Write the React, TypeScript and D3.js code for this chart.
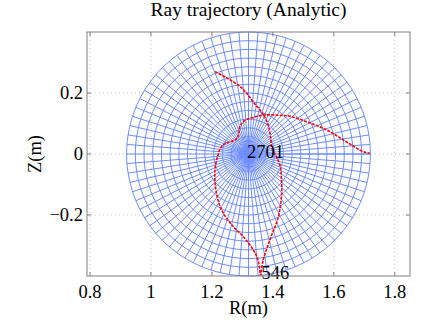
import React from "react";
import * as d3 from "d3";

const xTicks = [0.8, 1.0, 1.2, 1.4, 1.6, 1.8];
const xTickLabels = ["0.8", "1", "1.2", "1.4", "1.6", "1.8"];
const yTicks = [-0.2, 0, 0.2];
const yTickLabels = ["\u22120.2", "0", "0.2"];

// flux-surface grid (concentric circles)
const axisR = 1.32;
const axisZ = 0;
const minorRadius = 0.4;
const nRings = 14;
const nPoloidal = 80;

// ray trajectory (R, Z) in metres
const rayR = [
  1.21, 1.248, 1.292, 1.314, 1.336, 1.357, 1.374, 1.386, 1.393, 1.398, 1.412, 1.424, 1.428, 1.429, 1.418, 1.39, 1.368, 1.36,
  1.352, 1.336, 1.303, 1.27, 1.232, 1.213, 1.21, 1.218, 1.228, 1.244, 1.277, 1.287, 1.292, 1.305, 1.336, 1.374, 1.42, 1.456, 1.51, 1.576, 1.641, 1.696, 1.718,
];
const rayZ = [
  0.27, 0.25, 0.222, 0.199, 0.17, 0.145, 0.12, 0.09, 0.05, 0.015, -0.01, -0.04, -0.08, -0.13, -0.206, -0.282, -0.348, -0.397,
  -0.35, -0.315, -0.271, -0.238, -0.184, -0.118, -0.052, -0.01, 0.019, 0.035, 0.046, 0.062, 0.09, 0.108, 0.12, 0.128, 0.127, 0.124, 0.106, 0.079, 0.04, 0.008, 0.003,
];

const labels = [
  { text: "2701", R: 1.315, Z: 0.005 },
  { text: "546", R: 1.363, Z: -0.39 },
];

const title = "Ray trajectory (Analytic)";
const xLabel = "R(m)";
const yLabel = "Z(m)";

const W = 432;
const H = 325;
const L = 87, Rt = 410, T = 32, B = 276;

export default function App() {
  const x = d3.scaleLinear().domain([0.79, 1.85]).range([L, Rt]);
  const y = d3.scaleLinear().domain([-0.4, 0.4]).range([B, T]);
  const font = "Liberation Serif, Times New Roman, serif";

  const line = d3.line<[number, number]>().x((d) => x(d[0])).y((d) => y(d[1]));

  const rings: string[] = [];
  for (let k = 1; k <= nRings; k++) {
    const r = (minorRadius * k) / nRings;
    const pts: [number, number][] = d3.range(0, 361, 3).map((a) => [
      axisR + r * Math.cos((a * Math.PI) / 180),
      axisZ + r * Math.sin((a * Math.PI) / 180),
    ]);
    rings.push(line(pts) as string);
  }
  const spokes: string[] = [];
  for (let j = 0; j <= nPoloidal; j++) {
    const t = (2 * Math.PI * j) / nPoloidal;
    const pts: [number, number][] = [
      [axisR, axisZ],
      [axisR + minorRadius * Math.cos(t), axisZ + minorRadius * Math.sin(t)],
    ];
    spokes.push(line(pts) as string);
  }

  const rayPts: [number, number][] = rayR.map((r, i) => [r, rayZ[i]]);
  const rayPath = d3
    .line<[number, number]>()
    .x((d) => x(d[0]))
    .y((d) => y(d[1]))
    .curve(d3.curveCatmullRom)(rayPts) as string;

  const axisColor = "#808080";
  const fs = 18.5;

  return (
    <svg width={W} height={H} style={{ position: "absolute", left: 0, top: 0, background: "#fff" }}>
      <g fontFamily={font}>
      <rect x={0} y={0} width={W} height={H} fill="#fff" />
      {xTicks.map((t) => (
        <line key={"gx" + t} x1={x(t)} x2={x(t)} y1={T} y2={B} stroke="#c8c8c8" strokeWidth={1} strokeDasharray="1,3" />
      ))}
      {yTicks.map((t) => (
        <line key={"gy" + t} x1={L} x2={Rt} y1={y(t)} y2={y(t)} stroke="#c8c8c8" strokeWidth={1} strokeDasharray="1,3" />
      ))}
      <g fill="none" stroke="#6d8dff" strokeWidth={1}>
        {spokes.map((d, i) => (
          <path key={"s" + i} d={d} />
        ))}
        {rings.map((d, i) => (
          <path key={"r" + i} d={d} />
        ))}
      </g>
      <path d={rayPath} fill="none" stroke="#ff0000" strokeWidth={1.6} strokeDasharray="3,1.2" />
      {labels.map((l) => (
        <text key={l.text} x={x(l.R)} y={y(l.Z)} dominantBaseline="central" fontSize={fs} fill="#000">
          {l.text}
        </text>
      ))}
      <rect x={L} y={T} width={Rt - L} height={B - T} fill="none" stroke={axisColor} strokeWidth={1} />
      {xTicks.map((t) => (
        <g key={"tx" + t}>
          <line x1={x(t)} x2={x(t)} y1={B} y2={B - 4} stroke={axisColor} />
          <line x1={x(t)} x2={x(t)} y1={T} y2={T + 4} stroke={axisColor} />
        </g>
      ))}
      {yTicks.map((t) => (
        <g key={"ty" + t}>
          <line x1={L} x2={L + 4} y1={y(t)} y2={y(t)} stroke={axisColor} />
          <line x1={Rt} x2={Rt - 4} y1={y(t)} y2={y(t)} stroke={axisColor} />
        </g>
      ))}
      {xTicks.map((t, i) => (
        <text key={"lx" + t} x={x(t)} y={298} textAnchor="middle" fontSize={fs} fill="#000">
          {xTickLabels[i]}
        </text>
      ))}
      {yTicks.map((t, i) => (
        <text key={"ly" + t} x={83} y={y(t)} textAnchor="end" dominantBaseline="central" fontSize={fs} fill="#000">
          {yTickLabels[i]}
        </text>
      ))}
      <text x={(L + Rt) / 2} y={16} textAnchor="middle" fontSize={19.5} fill="#000">
        {title}
      </text>
      <text x={(L + Rt) / 2} y={314} textAnchor="middle" fontSize={fs} fill="#000">
        {xLabel}
      </text>
      <text transform={`translate(41, ${(T + B) / 2}) rotate(-90)`} textAnchor="middle" fontSize={fs} fill="#000">
        {yLabel}
      </text>
      </g>
    </svg>
  );
}
